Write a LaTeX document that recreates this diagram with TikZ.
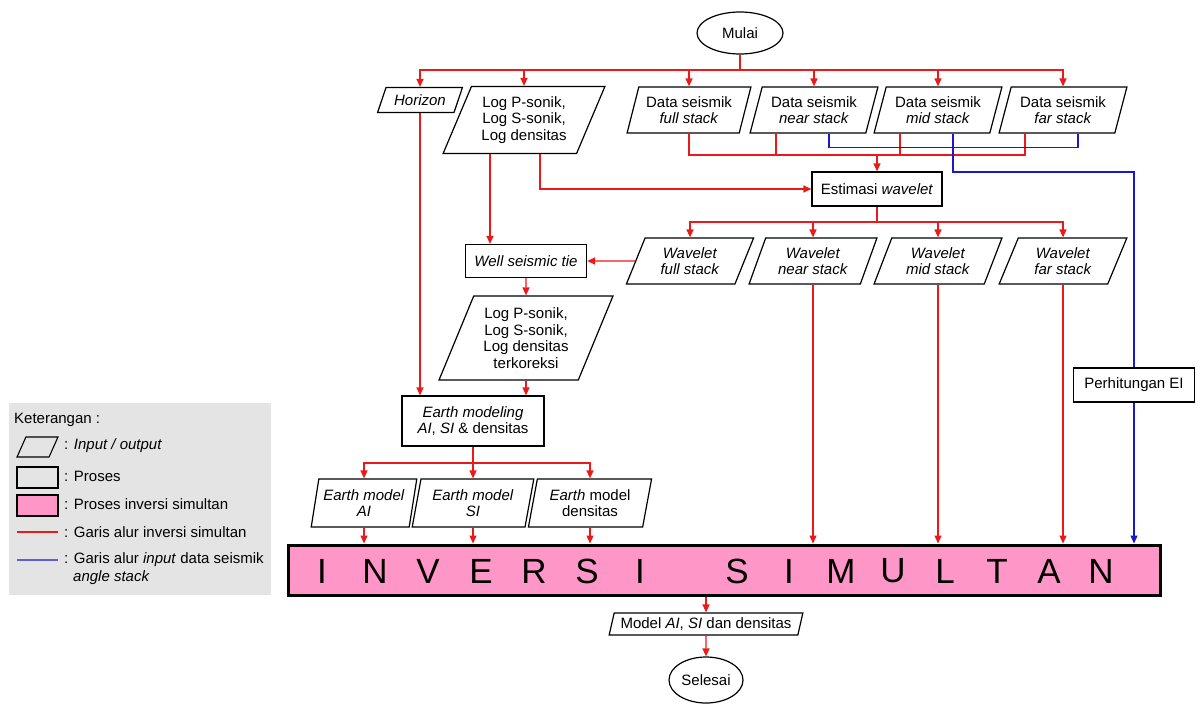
\documentclass[tikz,border=0pt]{standalone}
\usepackage{fontspec}
\setmainfont{Liberation Sans}
\usetikzlibrary{shapes.geometric,arrows.meta,calc}
\definecolor{rline}{RGB}{235,25,25}
\definecolor{bline}{RGB}{25,25,200}
\definecolor{pinkfill}{RGB}{255,150,200}
\definecolor{legbg}{RGB}{228,228,228}
\tikzset{
  every node/.style={font=\fontsize{15}{16.5}\selectfont, align=center, inner sep=0pt},
  io/.style={trapezium, draw, line width=1.2pt, trapezium stretches=true,
             trapezium left angle=#1, trapezium right angle=180-#1},
  proc/.style={rectangle, draw, line width=1.2pt},
  term/.style={ellipse, draw, line width=1.2pt},
  rl/.style={draw=rline, line width=1.3pt},
  ra/.style={rl, -{Triangle[length=8pt,width=7pt]}},
  bl/.style={draw=bline, line width=1.3pt},
  ba/.style={bl, -{Triangle[length=8pt,width=7pt]}},
  big/.style={font=\fontsize{35}{35}\selectfont},
}
\begin{document}
\begin{tikzpicture}[x=1pt,y=-1pt]
\useasboundingbox (0,0) rectangle (1198,704);

% ---------- nodes ----------
\node[term, minimum width=86pt, minimum height=42pt] (mulai) at (740,33) {Mulai};
\node[io=60, minimum width=85pt, minimum height=25pt] (hor) at (420,100) {\itshape Horizon};
\node[io=64, minimum width=162pt, minimum height=67pt] (logA) at (524,120) {Log P-sonik,\\Log S-sonik,\\Log densitas};
\node[io=70, minimum width=124pt, minimum height=46pt] (dfull) at (689,110) {Data seismik\\\textit{full stack}};
\node[io=70, minimum width=128pt, minimum height=46pt] (dnear) at (814,110) {Data seismik\\\textit{near stack}};
\node[io=70, minimum width=128pt, minimum height=46pt] (dmid) at (938,110) {Data seismik\\\textit{mid stack}};
\node[io=70, minimum width=128pt, minimum height=46pt] (dfar) at (1063,110) {Data seismik\\\textit{far stack}};

\node[proc, minimum width=130pt, minimum height=34pt] (est) at (877,189) {Estimasi \textit{wavelet}};

\node[io=66, minimum width=128pt, minimum height=46pt] (wfull) at (690,261) {\textit{Wavelet}\\\textit{full stack}};
\node[io=66, minimum width=128pt, minimum height=46pt] (wnear) at (813,261) {\textit{Wavelet}\\\textit{near stack}};
\node[io=66, minimum width=128pt, minimum height=46pt] (wmid) at (938,261) {\textit{Wavelet}\\\textit{mid stack}};
\node[io=66, minimum width=128pt, minimum height=46pt] (wfar) at (1063,261) {\textit{Wavelet}\\\textit{far stack}};

\node[proc, minimum width=121pt, minimum height=33pt] (well) at (526,261) {\itshape Well seismic tie};
\node[io=65, minimum width=174pt, minimum height=84pt] (logB) at (526,338) {Log P-sonik,\\Log S-sonik,\\Log densitas\\terkoreksi};
\node[proc, minimum width=142pt, minimum height=50pt] (earth) at (473,421) {\textit{Earth modeling}\\\textit{AI}, \textit{SI} \& densitas};

\node[io=76, minimum width=106pt, minimum height=48pt] (emai) at (364,503) {\textit{Earth model}\\\textit{AI}};
\node[io=76, minimum width=122pt, minimum height=48pt] (emsi) at (473,503) {\textit{Earth model}\\\textit{SI}};
\node[io=76, minimum width=124pt, minimum height=48pt] (emden) at (590,503) {\textit{Earth} model\\densitas};

\node[proc, minimum width=121pt, minimum height=34pt] (ei) at (1134,385) {Perhitungan EI};

\node[rectangle, draw, line width=3pt, fill=pinkfill, minimum width=872pt, minimum height=50pt] (inv) at (724,570) {};
\foreach \c/\x [count=\i] in {I/322,N/375,V/428,E/481,R/534,S/587,I/640,S/737,I/789,M/841,U/893,L/945,T/997,A/1049,N/1101}
  \node[big] (ltr\i) at (\x,571) {\c};

\node[io=70, minimum width=194pt, minimum height=22pt] (model) at (706,624) {Model \textit{AI}, \textit{SI} dan densitas};
\node[term, minimum width=74pt, minimum height=46pt] (sel) at (706,680) {Selesai};

% ---------- connectors ----------
\coordinate (b1) at (740,70);
\draw[rl] (mulai.south) -- (b1);
\foreach \n in {hor,logA,dfull,dnear,dmid,dfar}
  \draw[ra] (b1) -| (\n.north);

\coordinate (b2) at (877,155);
\draw[rl] (dfull.south) |- (b2);
\draw[rl] ($(dnear.south)+(-38,0)$) |- (b2);
\draw[rl] ($(dmid.south)+(-38,0)$) |- (b2);
\draw[rl] ($(dfar.south)+(-38,0)$) |- (b2);
\draw[ra] (b2) -- (est.north);

\draw[bl] ($(dnear.south)+(15,0)$) |- ($(dfar.south)+(15,14)$) -- ($(dfar.south)+(15,0)$);
\coordinate (c1) at (1134,172);
\draw[bl] ($(dmid.south)+(15,0)$) |- (c1) -- (ei.north);
\draw[ba] (ei.south) -- (ei.south |- inv.north);

\draw[ra] ($(logA.south)+(16,0)$) |- (est.west);
\coordinate (l2) at ($(logA.south)+(-34,0)$);
\draw[ra] (l2) -- (l2 |- well.north);

\coordinate (b3) at (877,222);
\draw[rl] (est.south) -- (b3);
\foreach \n in {wfull,wnear,wmid,wfar}
  \draw[ra] (b3) -| (\n.north);

\draw[ra] (wfull.west) -- (well.east);
\draw[ra] (well.south) -- (logB.north);
\draw[ra] (logB.south) -- (logB.south |- earth.north);
\draw[ra] (hor.south) -- (hor.south |- earth.north);

\coordinate (b4) at (473,463);
\draw[rl] (earth.south) -- (b4);
\foreach \n in {emai,emsi,emden}
  \draw[ra] (b4) -| (\n.north);
\foreach \n in {emai,emsi,emden,wnear,wmid,wfar}
  \draw[ra] (\n.south) -- (\n.south |- inv.north);

\draw[ra] (model.north |- inv.south) -- (model.north);
\draw[ra] (model.south) -- (sel.north);

% ---------- legend ----------
\node[rectangle, fill=legbg, minimum width=262pt, minimum height=192pt] (leg) at (140,499) {};
\node[anchor=west] (legt) at (14,420) {Keterangan :};
\node[io=70, minimum width=41pt, minimum height=20pt, line width=1.1pt] (lio) at (37.5,447) {\phantom{x}};
\node[proc, minimum width=41pt, minimum height=21pt, line width=1.1pt] (lpr) at (37.5,477.5) {};
\node[proc, minimum width=41pt, minimum height=21pt, line width=1.1pt, fill=pinkfill] (lpk) at (37.5,505.5) {};
\coordinate (lr1) at (17,532); \coordinate (lr2) at (58,532);
\coordinate (lb1) at (17,560); \coordinate (lb2) at (58,560);
\draw[rl] (lr1) -- (lr2);
\draw[bl, draw=bline!70] (lb1) -- (lb2);
\node[anchor=west] (t1) at (64,446) {: \textit{Input / output}};
\node[anchor=west] (t2) at (64,476) {: Proses};
\node[anchor=west] (t3) at (64,504) {: Proses inversi simultan};
\node[anchor=west] (t4) at (64,532) {: Garis alur inversi simultan};
\node[anchor=west] (t5) at (64,560) {: Garis alur \textit{input} data seismik};
\node[anchor=west] (t6) at (73,578) {\textit{angle stack}};
\end{tikzpicture}
\end{document}
